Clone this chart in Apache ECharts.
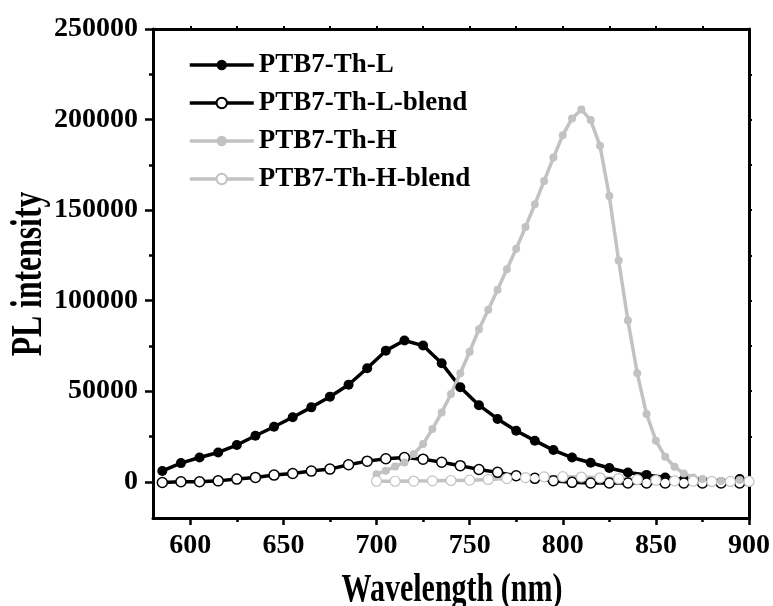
<!DOCTYPE html>
<html>
<head>
<meta charset="utf-8">
<script src="https://cdn.jsdelivr.net/npm/echarts@6/dist/echarts.min.js"></script>
<style>
  html, body { margin: 0; padding: 0; background: #fff; }
  #chart { width: 773px; height: 606px; }
</style>
</head>
<body>
<div id="chart"></div>
<script>
// Photoluminescence spectra of PTB7-Th (low / high MW) and their blends
const wlL = [585, 595, 605, 615, 625, 635, 645, 655, 665, 675, 685, 695, 705, 715, 725, 735,
             745, 755, 765, 775, 785, 795, 805, 815, 825, 835, 845, 855, 865, 875, 885, 895];
const plL = [6000, 10300, 13400, 16200, 20300, 25400, 30400, 35600, 41100, 47000, 53600, 62700,
             72400, 78000, 75200, 65400, 52200, 42300, 34700, 28200, 22700, 17500, 13400, 10500,
             7600, 5150, 3800, 2400, 1300, 550, -400, 1500];
const plLBlend = [-400, 0, 0, 500, 1500, 2400, 3700, 4600, 5900, 7000, 9400, 11400, 12700, 13400,
                  12500, 10800, 8900, 6800, 5200, 3300, 1900, 600, -300, -700, -700, -700, -700,
                  -700, -700, -700, -700, -700];

const wlH = [700, 705, 710, 715, 720, 725, 730, 735, 740, 745, 750, 755, 760, 765, 770, 775,
             780, 785, 790, 795, 800, 805, 810, 815, 820, 825, 830, 835, 840, 845, 850, 855,
             860, 865, 870, 875, 880, 885, 890, 895];
const plH = [4200, 6100, 8500, 10700, 15300, 20800, 29100, 38300, 48500, 59900, 71800, 84200,
             95000, 106000, 117400, 128700, 140700, 153200, 166100, 179000, 191400, 200600,
             205500, 199700, 185500, 157800, 122200, 89000, 59900, 37400, 22700, 13800, 8300,
             4600, 2400, 1500, 600, 400, 400, 1000];

const wlHBlend = [700, 710, 720, 730, 740, 750, 760, 770, 780, 790, 800, 810, 820, 830, 840,
                  850, 860, 870, 880, 890, 900];
const plHBlend = [300, 300, 400, 500, 700, 900, 1300, 1800, 2300, 2700, 2800, 2600, 2200, 1700,
                  1200, 800, 500, 300, 200, 200, 200];

const seriesNames = ['PTB7-Th-L', 'PTB7-Th-L-blend', 'PTB7-Th-H', 'PTB7-Th-H-blend'];

const xMajor = [600, 650, 700, 750, 800, 850, 900];
const xMinor = [625, 675, 725, 775, 825, 875];
const xTopTicks = [600, 625, 650, 675, 700, 725, 750, 775, 800, 825, 850, 875];
const yMajor = [0, 50000, 100000, 150000, 200000, 250000];
const yMinor = [25000, 75000, 125000, 175000, 225000];
const yRightTicks = [0, 25000, 50000, 75000, 100000, 125000, 150000, 175000, 200000, 225000];

const BLACK = '#000000';
const GREY = '#c2c2c2';
const FONT = '"Liberation Serif", "Times New Roman", serif';

const pairs = (xs, ys) => xs.map((x, i) => [x, ys[i]]);

const labelStyle = { fontFamily: FONT, fontWeight: 'bold', fontSize: 28, color: BLACK,
                     formatter: (v) => String(v) };

const chart = echarts.init(document.getElementById('chart'), null, { renderer: 'canvas' });

chart.setOption({
  backgroundColor: '#ffffff',
  animation: false,
  grid: { left: 153, right: 24, top: 29, bottom: 88, outerBoundsMode: 'none' },
  legend: {
    orient: 'vertical',
    left: 183,
    top: 45,
    itemWidth: 64,
    itemHeight: 13,
    itemGap: 8,
    lineStyle: { width: 3.5 },
    textStyle: { fontFamily: FONT, fontWeight: 'bold', fontSize: 27, color: BLACK, lineHeight: 30 },
    data: seriesNames
  },
  xAxis: [
    {
      type: 'value', min: 580, max: 900, position: 'bottom',
      axisLine: { show: true, onZero: false, lineStyle: { color: BLACK, width: 3 } },
      axisTick: { show: true, customValues: xMajor, length: 7, lineStyle: { color: BLACK, width: 2.5 } },
      axisLabel: Object.assign({ customValues: xMajor, margin: 14 }, labelStyle),
      splitLine: { show: false }
    },
    {
      type: 'value', min: 580, max: 900, position: 'bottom',
      axisLine: { show: false, onZero: false },
      axisTick: { show: true, customValues: xMinor, length: 4, lineStyle: { color: BLACK, width: 2.5 } },
      axisLabel: { show: false },
      splitLine: { show: false }
    },
    {
      type: 'value', min: 580, max: 900, position: 'top',
      axisLine: { show: true, onZero: false, lineStyle: { color: BLACK, width: 3 } },
      axisTick: { show: true, customValues: xTopTicks, length: 3, lineStyle: { color: BLACK, width: 2 } },
      axisLabel: { show: false },
      splitLine: { show: false }
    }
  ],
  yAxis: [
    {
      type: 'value', min: -20000, max: 250000, position: 'left',
      axisLine: { show: true, onZero: false, lineStyle: { color: BLACK, width: 3 } },
      axisTick: { show: true, customValues: yMajor, length: 8, lineStyle: { color: BLACK, width: 2.5 } },
      axisLabel: Object.assign({ customValues: yMajor, margin: 15 }, labelStyle),
      splitLine: { show: false }
    },
    {
      type: 'value', min: -20000, max: 250000, position: 'left',
      axisLine: { show: false, onZero: false },
      axisTick: { show: true, customValues: yMinor, length: 4, lineStyle: { color: BLACK, width: 2.5 } },
      axisLabel: { show: false },
      splitLine: { show: false }
    },
    {
      type: 'value', min: -20000, max: 250000, position: 'right',
      axisLine: { show: true, onZero: false, lineStyle: { color: BLACK, width: 3 } },
      axisTick: { show: true, customValues: yRightTicks, length: 3, lineStyle: { color: BLACK, width: 2 } },
      axisLabel: { show: false },
      splitLine: { show: false }
    }
  ],
  series: [
    {
      name: seriesNames[0], type: 'line', data: pairs(wlL, plL),
      symbol: 'circle', symbolSize: 10,
      lineStyle: { color: BLACK, width: 3.5 },
      itemStyle: { color: BLACK, borderColor: BLACK, borderWidth: 0 }
    },
    {
      name: seriesNames[1], type: 'line', data: pairs(wlL, plLBlend),
      symbol: 'circle', symbolSize: 10,
      lineStyle: { color: BLACK, width: 3.5 },
      itemStyle: { color: '#ffffff', borderColor: BLACK, borderWidth: 1.5 }
    },
    {
      name: seriesNames[2], type: 'line', data: pairs(wlH, plH),
      symbol: 'circle', symbolSize: 8,
      lineStyle: { color: GREY, width: 3.5 },
      itemStyle: { color: GREY, borderColor: GREY, borderWidth: 0 }
    },
    {
      name: seriesNames[3], type: 'line', data: pairs(wlHBlend, plHBlend),
      symbol: 'circle', symbolSize: 10,
      lineStyle: { color: GREY, width: 3.5 },
      itemStyle: { color: '#ffffff', borderColor: GREY, borderWidth: 1.2 }
    }
  ],
  graphic: [
    {
      type: 'text', x: 452, y: 591, scaleX: 0.75, z: 10,
      style: { text: 'Wavelength (nm)', x: 0, y: 0, font: 'bold 40px ' + FONT,
               fill: BLACK, align: 'center', verticalAlign: 'middle' }
    },
    {
      type: 'text', x: 30, y: 274, rotation: Math.PI / 2, scaleX: 0.72, z: 10,
      style: { text: 'PL intensity', x: 0, y: 0, font: 'bold 44px ' + FONT,
               fill: BLACK, align: 'center', verticalAlign: 'middle' }
    }
  ]
});
</script>
</body>
</html>
